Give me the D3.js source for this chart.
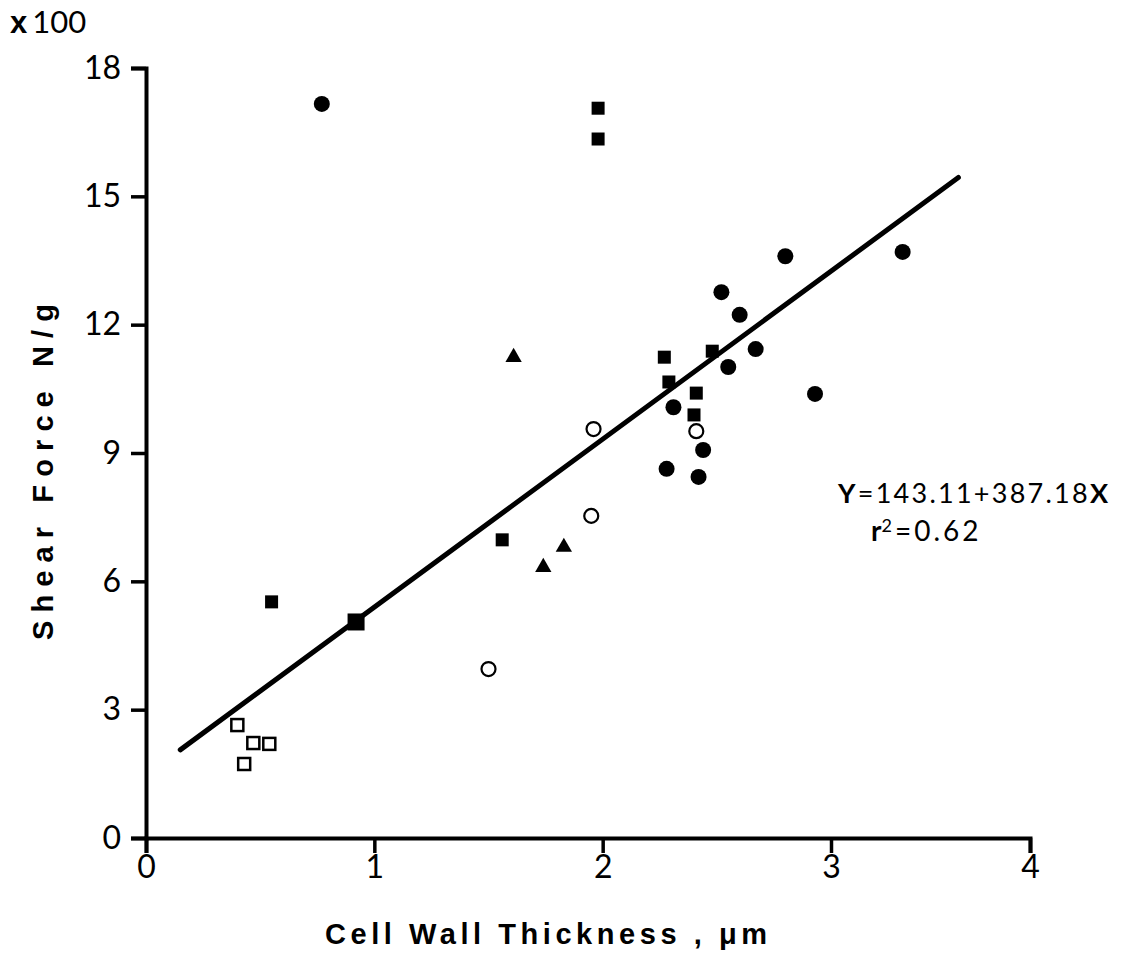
<!DOCTYPE html>
<html>
<head>
<meta charset="utf-8">
<script src="https://cdn.jsdelivr.net/npm/d3@7"></script>
<style>
  body { margin: 0; background: #fff; }
  svg { display: block; }
</style>
</head>
<body>
<div id="chart"></div>
<script>
// Cell wall thickness (µm) vs shear force (N/g, x100)
const xTicks = [0, 1, 2, 3, 4];
const yTicks = [0, 3, 6, 9, 12, 15, 18];

const filledCirclesX = [0.77, 2.80, 3.36, 2.52, 2.60, 2.67, 2.55, 2.93, 2.31, 2.44, 2.28, 2.42];
const filledCirclesY = [17.16, 13.60, 13.70, 12.76, 12.23, 11.43, 11.01, 10.38, 10.07, 9.07, 8.63, 8.44];

const filledSquaresX = [1.98, 1.98, 2.27, 2.29, 2.48, 2.41, 2.40, 1.56, 0.55];
const filledSquaresY = [17.06, 16.34, 11.24, 10.66, 11.38, 10.40, 9.89, 6.97, 5.52];

// two filled squares printed on top of each other
const overlapSquaresX = [0.92];
const overlapSquaresY = [5.05];

const trianglesX = [1.61, 1.83, 1.74];
const trianglesY = [11.24, 6.80, 6.33];

const openCirclesX = [1.96, 1.95, 1.50, 2.41];
const openCirclesY = [9.56, 7.53, 3.95, 9.51];

const openSquaresX = [0.40, 0.47, 0.54, 0.43];
const openSquaresY = [2.64, 2.22, 2.20, 1.73];

// fitted line end points (Y = 143.11 + 387.18X)
const fitX = [0.15, 3.64];
const fitY = [2.06, 15.44];

const W = 1128, H = 963;

const svg = d3.select('#chart')
  .append('svg')
  .attr('width', W)
  .attr('height', H);

svg.append('rect')
  .attr('width', W)
  .attr('height', H)
  .attr('fill', '#fff');

// the printed axis is a little stretched, so the x scale is piecewise
const x = d3.scaleLinear().domain([0, 3, 4]).range([146, 831, 1030]);
const y = d3.scaleLinear().domain([0, 18]).range([838, 68]);

const numFont = 'Lato, "Open Sans", sans-serif';
const titleFont = '"Liberation Sans", Arial, sans-serif';

// axes
const xAxis = svg.append('g')
  .attr('transform', `translate(0,${y(0)})`)
  .call(d3.axisBottom(x).tickValues(xTicks).tickSize(15).tickPadding(2).tickFormat(d3.format('d')));

const yAxis = svg.append('g')
  .attr('transform', `translate(${x(0)},0)`)
  .call(d3.axisLeft(y).tickValues(yTicks).tickSize(15).tickPadding(10).tickFormat(d3.format('d')));

[xAxis, yAxis].forEach(g => {
  g.select('.domain').attr('stroke', '#000').attr('stroke-width', 4);
  g.selectAll('.tick line').attr('stroke', '#000').attr('stroke-width', 3.5);
  g.selectAll('.tick text')
    .attr('fill', '#000')
    .style('font-family', numFont)
    .style('font-size', '32px');
});

// regression line
svg.append('line')
  .attr('x1', x(fitX[0])).attr('y1', y(fitY[0]))
  .attr('x2', x(fitX[1])).attr('y2', y(fitY[1]))
  .attr('stroke', '#000')
  .attr('stroke-width', 5)
  .attr('stroke-linecap', 'round');

// markers
const pts = (xs, ys) => xs.map((v, i) => [v, ys[i]]);

svg.append('g').selectAll('circle')
  .data(pts(filledCirclesX, filledCirclesY))
  .join('circle')
  .attr('cx', d => x(d[0])).attr('cy', d => y(d[1]))
  .attr('r', 8).attr('fill', '#000');

svg.append('g').selectAll('rect')
  .data(pts(filledSquaresX, filledSquaresY))
  .join('rect')
  .attr('x', d => x(d[0]) - 6.5).attr('y', d => y(d[1]) - 6.5)
  .attr('width', 13).attr('height', 13)
  .attr('fill', '#000');

svg.append('g').selectAll('rect')
  .data(pts(overlapSquaresX, overlapSquaresY))
  .join('rect')
  .attr('x', d => x(d[0]) - 8.5).attr('y', d => y(d[1]) - 8.5)
  .attr('width', 17).attr('height', 17)
  .attr('fill', '#000');

const tri = d3.symbol().type(d3.symbolTriangle).size(115);
svg.append('g').selectAll('path')
  .data(pts(trianglesX, trianglesY))
  .join('path')
  .attr('d', tri)
  .attr('transform', d => `translate(${x(d[0])},${y(d[1])})`)
  .attr('fill', '#000');

svg.append('g').selectAll('circle')
  .data(pts(openCirclesX, openCirclesY))
  .join('circle')
  .attr('cx', d => x(d[0])).attr('cy', d => y(d[1]))
  .attr('r', 7).attr('fill', '#fff')
  .attr('stroke', '#000').attr('stroke-width', 2.2);

svg.append('g').selectAll('rect')
  .data(pts(openSquaresX, openSquaresY))
  .join('rect')
  .attr('x', d => x(d[0]) - 6).attr('y', d => y(d[1]) - 6)
  .attr('width', 12).attr('height', 12)
  .attr('fill', '#fff')
  .attr('stroke', '#000').attr('stroke-width', 2.5);

// multiplier label
const mult = svg.append('text')
  .attr('x', 10).attr('y', 33)
  .style('font-family', numFont)
  .style('font-size', '31px');
mult.append('tspan').text('x').style('font-weight', 'bold').style('font-family', titleFont);
mult.append('tspan').text('100').attr('dx', 5);

// axis titles
svg.append('text')
  .attr('x', 325).attr('y', 944)
  .attr('textLength', 442)
  .attr('lengthAdjust', 'spacing')
  .style('font-family', titleFont)
  .style('font-weight', 'bold')
  .style('font-size', '29px')
  .text('Cell Wall Thickness ,  \u03bcm');

svg.append('text')
  .attr('transform', 'translate(53,640) rotate(-90)')
  .attr('textLength', 336)
  .attr('lengthAdjust', 'spacing')
  .style('font-family', titleFont)
  .style('font-weight', 'bold')
  .style('font-size', '29px')
  .text('Shear Force N/g');

// equation
const eq = svg.append('text')
  .attr('x', 838).attr('y', 503)
  .attr('textLength', 270)
  .attr('lengthAdjust', 'spacing')
  .style('font-family', numFont)
  .style('font-size', '27px');
eq.append('tspan').text('Y').style('font-weight', 'bold');
eq.append('tspan').text('=143.11+387.18');
eq.append('tspan').text('X').style('font-weight', 'bold');

const r2 = svg.append('text')
  .attr('x', 871).attr('y', 541)
  .style('font-family', numFont)
  .style('font-size', '28px');
r2.append('tspan').text('r').style('font-weight', 'bold');
r2.append('tspan').text('2').attr('dy', -9).style('font-size', '18px');
r2.append('tspan').text('=0.62').attr('dy', 9).attr('dx', 3).style('letter-spacing', '3px');
</script>
</body>
</html>
